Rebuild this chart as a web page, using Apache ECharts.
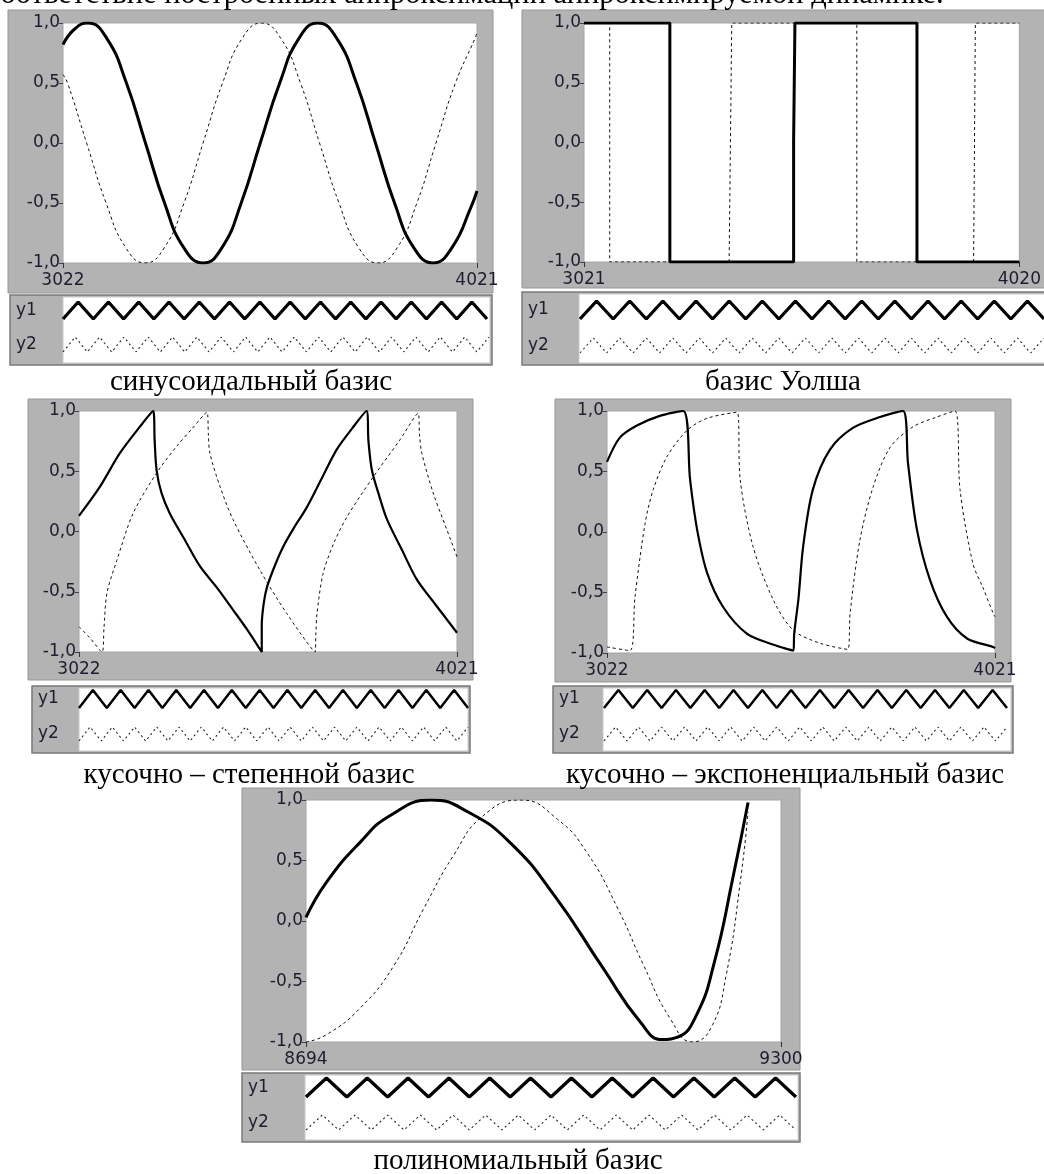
<!DOCTYPE html>
<html>
<head>
<meta charset="utf-8">
<script src="https://cdn.jsdelivr.net/npm/echarts@6/dist/echarts.min.js"></script>
<style>
  html, body { margin: 0; padding: 0; background: #fff; }
  #main { width: 1044px; height: 1174px; }
</style>
</head>
<body>
<div id="main"></div>
<script>
// values, [x, y] pairs
var sinSolid = [[3022,0.82],[3050,0.95],[3082,1],[3128,0.87],[3175,0.5],[3221,0],[3267,-0.5],[3313,-0.87],[3360,-1],[3406,-0.87],[3452,-0.5],[3498,0],[3545,0.5],[3591,0.87],[3637,1],[3683,0.87],[3730,0.5],[3776,0],[3822,-0.5],[3868,-0.87],[3915,-1],[3961,-0.87],[4007,-0.53],[4021,-0.4]];
var sinDotted = [[3022,0.57],[3033,0.5],[3079,0],[3126,-0.5],[3173,-0.87],[3220,-1],[3267,-0.87],[3314,-0.5],[3360,0],[3407,0.5],[3454,0.87],[3501,1],[3548,0.87],[3595,0.5],[3641,0],[3688,-0.5],[3735,-0.87],[3782,-1],[3829,-0.87],[3876,-0.5],[3922,0],[3969,0.5],[4016,0.87],[4021,0.92]];

var walshSolid = [[3021,1],[3218,1],[3218,-1],[3502,-1],[3502,0.01],[3505,0.01],[3505,1],[3785,1],[3785,-1],[4020,-1]];
var walshDotted = [[3021,1],[3080,1],[3080,-1],[3354,-1],[3360,1],[3647,1],[3647,-1],[3915,-1],[3919,1],[4020,1]];

var powSolid = [[3022,0.13],[3077,0.37],[3130,0.65],[3183,0.87],[3218,1],[3222,0.75],[3227,0.51],[3240,0.32],[3262,0.15],[3300,-0.06],[3342,-0.29],[3385,-0.46],[3429,-0.65],[3470,-0.83],[3505,-1],[3505,-0.78],[3510,-0.6],[3519,-0.46],[3540,-0.28],[3561,-0.13],[3590,0.03],[3624,0.2],[3665,0.45],[3703,0.68],[3745,0.86],[3782,1],[3787,0.75],[3796,0.51],[3815,0.3],[3836,0.1],[3875,-0.15],[3915,-0.4],[3965,-0.61],[4021,-0.84]];
var powDotted = [[3022,-0.79],[3050,-0.88],[3083,-1],[3088,-0.8],[3096,-0.51],[3122,-0.24],[3165,0.15],[3228,0.49],[3281,0.71],[3320,0.85],[3360,0.99],[3364,0.8],[3368,0.65],[3395,0.37],[3429,0.1],[3500,-0.32],[3571,-0.68],[3646,-1],[3648,-0.85],[3651,-0.68],[3667,-0.35],[3695,-0.1],[3730,0.12],[3799,0.45],[3870,0.76],[3918,0.98],[3922,0.8],[3928,0.65],[3958,0.32],[3990,0.05],[4021,-0.21]];

var expSolid = [[3022,0.58],[3055,0.78],[3099,0.88],[3158,0.96],[3218,1],[3236,0.43],[3254,0.02],[3280,-0.34],[3321,-0.62],[3382,-0.84],[3449,-0.93],[3502,-0.98],[3504,-0.84],[3515,-0.55],[3527,-0.12],[3552,0.35],[3596,0.68],[3655,0.86],[3725,0.95],[3784,1],[3797,0.57],[3820,0.02],[3854,-0.4],[3897,-0.7],[3949,-0.88],[4016,-0.95],[4021,-0.96]];
var expDotted = [[3022,-0.95],[3081,-0.98],[3094,-0.54],[3120,0.07],[3141,0.35],[3176,0.62],[3228,0.84],[3280,0.94],[3357,0.99],[3365,0.43],[3398,-0.12],[3450,-0.56],[3501,-0.81],[3571,-0.92],[3642,-0.97],[3648,-0.67],[3673,-0.07],[3707,0.37],[3751,0.7],[3810,0.87],[3871,0.95],[3918,1],[3931,0.35],[3964,-0.26],[3990,-0.46],[4016,-0.67],[4021,-0.7]];

var polySolid = [[8694,0.03],[8720,0.32],[8763,0.65],[8801,0.87],[8854,1],[8901,0.9],[8954,0.65],[9011,0.21],[9073,-0.39],[9120,-0.83],[9149,-0.98],[9168,-0.96],[9192,-0.78],[9215,-0.34],[9239,0.37],[9258,0.98]];
var polyDotted = [[8694,-1],[8720,-0.94],[8763,-0.72],[8806,-0.37],[8844,0.1],[8882,0.54],[8920,0.87],[8968,1],[9015,0.84],[9053,0.56],[9092,0.1],[9125,-0.37],[9158,-0.8],[9187,-1],[9211,-0.88],[9230,-0.45],[9249,0.37],[9258,0.9]];

var xRanges = [[3022, 4021], [3021, 4020], [3022, 4021], [3022, 4021], [8694, 9300]];
var captions = ['синусоидальный базис', 'базис Уолша', 'кусочно – степенной базис', 'кусочно – экспоненциальный базис', 'полиномиальный базис'];
var legendNames = ['y1', 'y2'];
var headText = 'соответствие построенных аппроксимаций аппроксимируемой динамике.';

// legend swatches (zigzag samples)
var zigY1 = [0,1,0,1,0,1,0,1,0,1,0,1,0,1,0,1,0,1,0,1,0,1,0,1,0,1,0,1,0];
var zigY1Short = [0,1,0,1,0,1,0,1,0,1,0,1,0,1,0,1,0,1,0,1,0,1,0,1,0];
var zigY2 = [0,1,0,1,0,1,0,1,0,1,0,1,0,1,0,1,0,1,0,1,0,1,0,1,0,1,0,1,0,1,0,1,0,1,0,1];
var zigY2Short = [0,1,0,1,0,1,0,1,0,1,0,1,0,1,0,1,0,1,0,1,0,1,0,1,0,1,0,1,0,1,0];

var seriesData = [[sinSolid, sinDotted], [walshSolid, walshDotted], [powSolid, powDotted], [expSolid, expDotted], [polySolid, polyDotted]];

// layout of each panel (pixels)
var panels = [
  { plot: [63, 23, 414, 240], frame: [8, 10, 485, 283], box: [10, 295, 482, 70], col: 53,
    z1: [63, 302, 424, 17], z2: [63, 337, 426, 15], cap: [251, 382], lw: 3, smooth: 0.5, zig: [zigY1, zigY2] },
  { plot: [584, 23, 446, 239], frame: [522, 10, 530, 278], box: [522, 292, 530, 73], col: 57,
    z1: [580, 301, 535, 18], z2: [580, 338, 535, 15], cap: [783, 382], lw: 3, smooth: false, zig: [zigY1, zigY2] },
  { plot: [79, 411, 378, 241], frame: [28, 399, 445, 281], box: [32, 686, 438, 67], col: 47,
    z1: [79, 690, 389, 18], z2: [79, 727, 389, 14], cap: [249, 775], lw: 2.2, smooth: 0.3, zig: [zigY1, zigY2] },
  { plot: [607, 411, 388, 242], frame: [555, 399, 456, 283], box: [553, 686, 460, 67], col: 50,
    z1: [604, 690, 403, 18], z2: [604, 727, 403, 14], cap: [785, 775], lw: 2.2, smooth: 0.3, zig: [zigY1, zigY2] },
  { plot: [306, 800, 475, 242], frame: [242, 788, 558, 282], box: [242, 1073, 558, 69], col: 63,
    z1: [306, 1078, 490, 19], z2: [306, 1115, 490, 15], cap: [518, 1161], lw: 3, smooth: 0.5, zig: [zigY1Short, zigY2Short] }
];

var labelColor = '#1d1d30';
var tickFont = 'DejaVu Sans';
var grids = [], xAxes = [], yAxes = [], series = [], graphics = [];

graphics.push({
  type: 'text', x: -13, y: -5, z: 1,
  style: { text: headText, font: '30.5px "Liberation Serif"', fill: '#000', textVerticalAlign: 'middle' }
});

panels.forEach(function (p, i) {
  var r = xRanges[i];
  var gi = grids.length;
  grids.push({ left: p.plot[0], top: p.plot[1], width: p.plot[2], height: p.plot[3],
    show: true, backgroundColor: '#fff', borderColor: '#a4a4a4', borderWidth: 1 });
  xAxes.push({
    gridIndex: gi, type: 'value', min: r[0], max: r[1],
    axisLine: { show: false, onZero: false }, splitLine: { show: false },
    axisTick: { show: true, length: 5, customValues: [r[0], r[1]], lineStyle: { color: '#333' } },
    axisLabel: { customValues: [r[0], r[1]], margin: 9, color: labelColor, fontFamily: tickFont, fontSize: 17,
      formatter: function (v) { return String(v); } }
  });
  yAxes.push({
    gridIndex: gi, type: 'value', min: -1, max: 1, interval: 0.5,
    axisLine: { show: false, onZero: false }, splitLine: { show: false },
    axisTick: { show: true, length: 4, lineStyle: { color: '#444' } },
    axisLabel: { margin: 3, color: labelColor, fontFamily: tickFont, fontSize: 17,
      formatter: function (v) { return v.toFixed(1).replace('.', ','); } }
  });
  series.push({
    type: 'line', name: legendNames[0], xAxisIndex: gi, yAxisIndex: gi, data: seriesData[i][0],
    symbol: 'none', smooth: p.smooth, z: 4,
    lineStyle: { color: '#000', width: p.lw }
  });
  series.push({
    type: 'line', name: legendNames[1], xAxisIndex: gi, yAxisIndex: gi, data: seriesData[i][1],
    symbol: 'none', smooth: p.smooth, z: 3,
    lineStyle: { color: '#111', width: 1, type: [3, 3] }
  });

  // legend swatch grids
  [p.z1, p.z2].forEach(function (z, k) {
    var li = grids.length;
    var zig = p.zig[k];
    grids.push({ left: z[0], top: z[1], width: z[2], height: z[3] });
    xAxes.push({ gridIndex: li, type: 'category', boundaryGap: false, show: false,
      data: zig.map(function (_, j) { return j; }) });
    yAxes.push({ gridIndex: li, type: 'value', min: 0, max: 1, show: false });
    series.push({
      type: 'line', xAxisIndex: li, yAxisIndex: li, data: zig, symbol: 'none', silent: true,
      lineStyle: k === 0 ? { color: '#000', width: p.lw + 0.3 } : { color: '#222', width: 1.1, type: [2, 3] }
    });
  });

  // gray frame, legend box, captions
  graphics.push({ type: 'rect', z: -5, shape: { x: p.frame[0], y: p.frame[1], width: p.frame[2], height: p.frame[3] },
    style: { fill: '#b3b3b3', stroke: '#979797', lineWidth: 1 } });
  graphics.push({ type: 'rect', z: -5, shape: { x: p.box[0], y: p.box[1], width: p.box[2], height: p.box[3] },
    style: { fill: '#b3b3b3', stroke: '#7a7a7a', lineWidth: 1.5 } });
  graphics.push({ type: 'rect', z: -4, shape: { x: p.box[0] + p.col, y: p.box[1] + 2, width: p.box[2] - p.col - 2, height: p.box[3] - 4 },
    style: { fill: '#fff', stroke: '#c8c8c8', lineWidth: 1 } });
  [p.z1, p.z2].forEach(function (z, k) {
    graphics.push({ type: 'text', z: 5, x: p.box[0] + 6, y: z[1] + z[3] / 2,
      style: { text: legendNames[k], font: '17px "DejaVu Sans"', fill: labelColor, textVerticalAlign: 'middle' } });
  });
  graphics.push({ type: 'text', z: 5, x: p.cap[0], y: p.cap[1],
    style: { text: captions[i], font: '29px "Liberation Serif"', fill: '#000', textAlign: 'center', textVerticalAlign: 'middle' } });
});

var chart = echarts.init(document.getElementById('main'), null, { renderer: 'canvas' });
chart.setOption({
  backgroundColor: '#fff',
  animation: false,
  grid: grids,
  xAxis: xAxes,
  yAxis: yAxes,
  series: series,
  graphic: graphics
});
</script>
</body>
</html>
